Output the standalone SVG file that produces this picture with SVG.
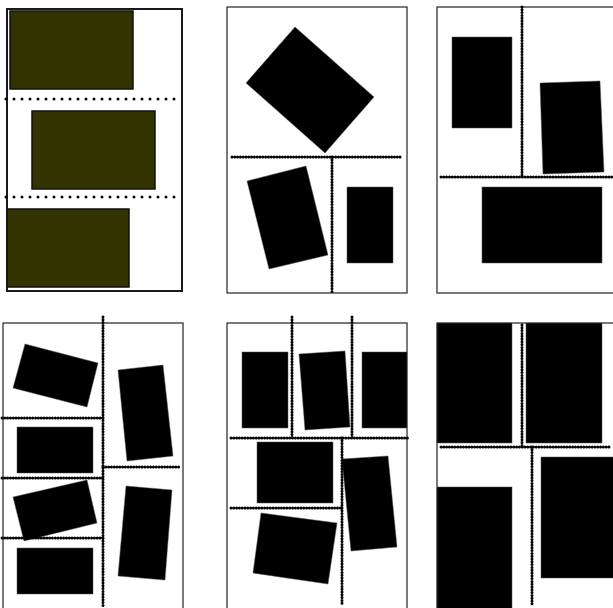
<svg xmlns="http://www.w3.org/2000/svg" width="613" height="608" viewBox="0 0 613 608">
<style>
.frame{fill:#fff;stroke:#222;stroke-width:1.2}
.frame1{fill:#fff;stroke:#1a1a1a;stroke-width:2}
.olive{fill:#333300;stroke:#111;stroke-width:1.5}
.blk{fill:#000;stroke:#555;stroke-width:0.5}
.dots{stroke:#000;stroke-width:3;stroke-linecap:round;stroke-dasharray:0 8;fill:none}
.dense{stroke:#000;stroke-width:3;stroke-linecap:round;stroke-dasharray:0 2.8;fill:none}
</style>
<rect width="613" height="608" fill="#fff"/>
<g id="panel1">
<rect class="frame1" x="7" y="9" width="175" height="282"/>
<rect id="p1-a" class="olive" x="10" y="11" width="123" height="78"/>
<rect id="p1-b" class="olive" x="32" y="111" width="123" height="78"/>
<rect id="p1-c" class="olive" x="7" y="209" width="122" height="78"/>
</g>
<g id="panel2">
<rect class="frame" x="227" y="7" width="180" height="286"/>
<polygon id="p2-a" class="blk" points="295,27 374,97 325,153 246,83"/>
<polygon id="p2-b" class="blk" points="247,181 306,166 328,255 269,269"/>
<rect id="p2-c" class="blk" x="347" y="187" width="46" height="76"/>
</g>
<g id="panel3">
<rect class="frame" x="437" y="7" width="190" height="286"/>
<rect id="p3-a" class="blk" x="452" y="37" width="60" height="91"/>
<polygon id="p3-b" class="blk" points="540,83 600,81 604,172 543,174"/>
<rect id="p3-c" class="blk" x="482" y="187" width="120" height="76"/>
</g>
<g id="panel4">
<rect class="frame" x="3" y="323" width="180" height="300"/>
<polygon id="p4-a" class="blk" points="25,344 98,363 87,407 13,388"/>
<rect id="p4-b" class="blk" x="17" y="427" width="76" height="46"/>
<polygon id="p4-c" class="blk" points="13,497 87,480 97,523 24,541"/>
<rect id="p4-d" class="blk" x="17" y="548" width="76" height="46"/>
<polygon id="p4-e" class="blk" points="118,370 163,365 173,456 127,461"/>
<polygon id="p4-f" class="blk" points="126,486 172,490 165,580 118,576"/>
</g>
<g id="panel5">
<rect class="frame" x="227" y="323" width="180" height="300"/>
<rect id="p5-a" class="blk" x="242" y="352" width="46" height="76"/>
<polygon id="p5-b" class="blk" points="299,354 345,351 350,427 305,430"/>
<rect id="p5-c" class="blk" x="362" y="352" width="45" height="76"/>
<rect id="p5-d" class="blk" x="257" y="442" width="76" height="61"/>
<polygon id="p5-e" class="blk" points="342,459 388,456 397,547 351,551"/>
<polygon id="p5-f" class="blk" points="261,513 337,523 328,584 253,573"/>
</g>
<g id="panel6">
<rect class="frame" x="437" y="323" width="190" height="300"/>
<rect id="p6-a" class="blk" x="437" y="323" width="75" height="120"/>
<rect id="p6-b" class="blk" x="526" y="323" width="76" height="120"/>
<rect id="p6-c" class="blk" x="437" y="487" width="75" height="125"/>
<rect id="p6-d" class="blk" x="541" y="457" width="80" height="121"/>
</g>
<g id="connectors">
<line class="dots" x1="6" y1="99" x2="176" y2="99"/>
<line class="dots" x1="6" y1="197" x2="176" y2="197"/>
<line class="dense" x1="232" y1="157" x2="400" y2="157"/>
<line class="dense" x1="332" y1="157" x2="332" y2="294"/>
<line class="dense" x1="522" y1="7" x2="522" y2="177"/>
<line class="dense" x1="441" y1="177" x2="613" y2="177"/>
<line class="dense" x1="103" y1="317" x2="103" y2="606"/>
<line class="dense" x1="2" y1="418" x2="103" y2="418"/>
<line class="dense" x1="2" y1="478" x2="103" y2="478"/>
<line class="dense" x1="2" y1="538" x2="103" y2="538"/>
<line class="dense" x1="103" y1="467" x2="181" y2="467"/>
<line class="dense" x1="292" y1="317" x2="292" y2="438"/>
<line class="dense" x1="352" y1="317" x2="352" y2="438"/>
<line class="dense" x1="231" y1="438" x2="410" y2="438"/>
<line class="dense" x1="342" y1="438" x2="342" y2="606"/>
<line class="dense" x1="231" y1="508" x2="342" y2="508"/>
<line class="dense" x1="522" y1="325" x2="522" y2="447"/>
<line class="dense" x1="441" y1="447" x2="610" y2="447"/>
<line class="dense" x1="532" y1="447" x2="532" y2="606"/>
</g>
</svg>
